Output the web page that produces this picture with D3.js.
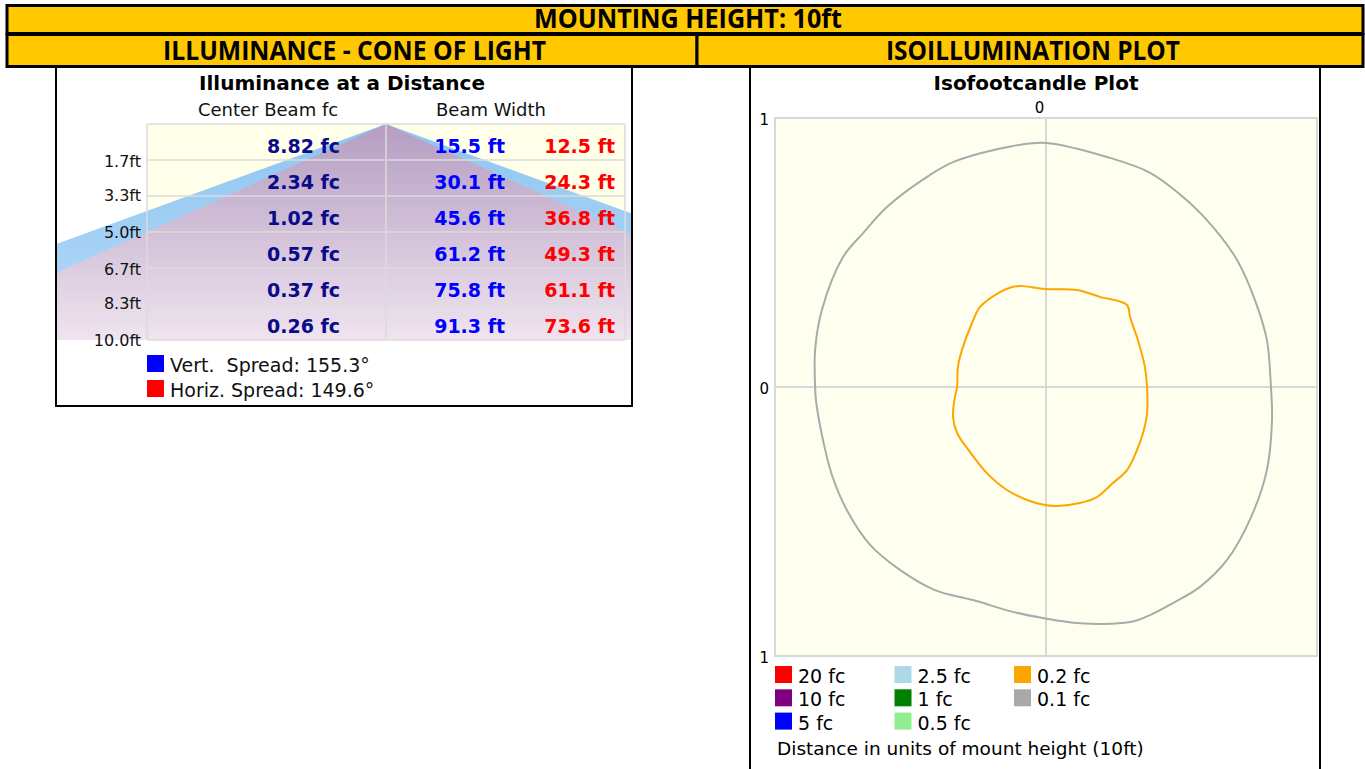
<!DOCTYPE html>
<html>
<head>
<meta charset="utf-8">
<script src="https://cdn.jsdelivr.net/npm/d3@7"></script>
<style>
body { margin: 0; background: #fff; }
text { font-family: "DejaVu Sans", Verdana, sans-serif; }
</style>
</head>
<body>
<script>
var headerTitle = "MOUNTING HEIGHT: 10ft",
    leftHeader = "ILLUMINANCE - CONE OF LIGHT",
    rightHeader = "ISOILLUMINATION PLOT";

// cone of light table
var distances = [1.7, 3.3, 5.0, 6.7, 8.3, 10.0];
var centerFc = [8.82, 2.34, 1.02, 0.57, 0.37, 0.26];
var vertWidth = [15.5, 30.1, 45.6, 61.2, 75.8, 91.3];
var horizWidth = [12.5, 24.3, 36.8, 49.3, 61.1, 73.6];
var spreadLabels = ["Vert.  Spread", "Horiz. Spread"];
var spreadValues = [155.3, 149.6];

// isofootcandle plot (units of mount height)
var isoTicks = [1, 0, -1];
var isoLevels = ["20 fc", "10 fc", "5 fc", "2.5 fc", "1 fc", "0.5 fc", "0.2 fc", "0.1 fc"];
var contour02 = [[-0.085, 0.375], [-0.004, 0.364], [0.114, 0.361], [0.199, 0.335], [0.299, 0.305],
  [0.310, 0.260], [0.339, 0.175], [0.365, 0.074], [0.373, 0], [0.373, -0.097], [0.358, -0.171],
  [0.336, -0.234], [0.299, -0.309], [0.247, -0.357], [0.188, -0.409], [0.125, -0.431], [0.041, -0.442],
  [-0.004, -0.439], [-0.070, -0.420], [-0.144, -0.383], [-0.218, -0.320], [-0.280, -0.242],
  [-0.328, -0.171], [-0.343, -0.112], [-0.336, -0.037], [-0.328, 0], [-0.325, 0.074], [-0.310, 0.138],
  [-0.273, 0.238], [-0.244, 0.297], [-0.170, 0.353], [-0.125, 0.372]];
var contour01 = [[0, 0.907], [0.225, 0.855], [0.384, 0.796], [0.531, 0.684], [0.616, 0.595],
  [0.705, 0.472], [0.771, 0.323], [0.815, 0.175], [0.830, 0], [0.834, -0.123], [0.815, -0.309],
  [0.760, -0.476], [0.668, -0.643], [0.568, -0.743], [0.469, -0.803], [0.384, -0.848], [0.310, -0.874],
  [0.114, -0.877], [-0.011, -0.859], [-0.122, -0.836], [-0.269, -0.792], [-0.410, -0.755],
  [-0.539, -0.680], [-0.649, -0.587], [-0.731, -0.465], [-0.790, -0.327], [-0.827, -0.178],
  [-0.849, -0.048], [-0.852, 0], [-0.852, 0.138], [-0.827, 0.286], [-0.749, 0.483], [-0.675, 0.572],
  [-0.587, 0.669], [-0.439, 0.781], [-0.343, 0.836], [-0.122, 0.896]];

var width = 1365, height = 769, yellow = "#ffc800";

var svg = d3.select("body").append("svg")
    .attr("width", width)
    .attr("height", height);

var defs = svg.append("defs");
function grad(id, c0, c1) {
  var g = defs.append("linearGradient").attr("id", id)
      .attr("gradientUnits", "userSpaceOnUse")
      .attr("x1", 0).attr("y1", 124).attr("x2", 0).attr("y2", 340);
  g.append("stop").attr("offset", 0).attr("stop-color", c0);
  g.append("stop").attr("offset", 1).attr("stop-color", c1);
}
grad("blueGrad", "#8ec5f1", "#b6dbf8");
grad("purpleGrad", "#b59dc2", "#efe4ef");
defs.append("clipPath").attr("id", "coneClip")
  .append("rect").attr("x", 57).attr("y", 124).attr("width", 574).attr("height", 216);

// ---- header ----
svg.append("rect").attr("x", 7).attr("y", 5.5).attr("width", 1356).attr("height", 28)
    .attr("fill", yellow).attr("stroke", "#000").attr("stroke-width", 3);
svg.append("rect").attr("x", 7).attr("y", 34.5).attr("width", 690).attr("height", 32)
    .attr("fill", yellow).attr("stroke", "#000").attr("stroke-width", 3);
svg.append("rect").attr("x", 697).attr("y", 34.5).attr("width", 666).attr("height", 32)
    .attr("fill", yellow).attr("stroke", "#000").attr("stroke-width", 3);

function headText(x, y, str, len) {
  svg.append("text")
      .attr("x", x).attr("y", y)
      .attr("text-anchor", "middle")
      .style("font-family", "'Open Sans', sans-serif")
      .attr("font-weight", "bold")
      .attr("font-size", 27)
      .attr("textLength", len)
      .attr("lengthAdjust", "spacingAndGlyphs")
      .text(str);
}
headText(688, 28, headerTitle, 308);
headText(354.5, 60, leftHeader, 383);
headText(1033, 60, rightHeader, 294);

// ---- left panel: cone of light ----
svg.append("rect").attr("x", 56).attr("y", 67).attr("width", 576).attr("height", 339)
    .attr("fill", "#fff").attr("stroke", "#000").attr("stroke-width", 2);

svg.append("text").attr("x", 342).attr("y", 90).attr("text-anchor", "middle")
    .attr("font-weight", "bold").attr("font-size", 20).text("Illuminance at a Distance");
svg.append("text").attr("x", 268).attr("y", 116).attr("text-anchor", "middle")
    .attr("font-size", 18).attr("fill", "#111").text("Center Beam fc");
svg.append("text").attr("x", 491).attr("y", 116).attr("text-anchor", "middle")
    .attr("font-size", 18).attr("fill", "#111").text("Beam Width");

var yFt = d3.scaleLinear().domain([0, 10]).range([124, 340]);
var xFt = d3.scaleLinear().domain([-20, 20]).range([126, 646]);
var rows = d3.scaleBand().domain(d3.range(distances.length)).range([124, 340]);

svg.append("rect").attr("x", 147).attr("y", 124).attr("width", 478).attr("height", 216)
    .attr("fill", "#ffffea");

var cone = svg.append("g").attr("clip-path", "url(#coneClip)");
var tri = d3.line().x(function(d) { return xFt(d[0]); }).y(function(d) { return yFt(d[1]); });
var vHalf = vertWidth[vertWidth.length - 1] / 2,
    hHalf = horizWidth[horizWidth.length - 1] / 2;
cone.append("path")
    .attr("d", tri([[0, 0], [-vHalf, 10], [vHalf, 10]]) + "Z")
    .attr("fill", "url(#blueGrad)");
cone.append("path")
    .attr("d", tri([[0, 0], [-hHalf, 10], [hHalf, 10]]) + "Z")
    .attr("fill", "url(#purpleGrad)");

// table grid
var grid = svg.append("g").attr("stroke", "#dcdcdc").attr("stroke-width", 2).attr("opacity", 0.75);
grid.selectAll(".hl")
    .data(d3.range(distances.length + 1))
  .enter().append("line")
    .attr("x1", 147).attr("x2", 625)
    .attr("y1", function(i) { return 124 + i * rows.step(); })
    .attr("y2", function(i) { return 124 + i * rows.step(); });
grid.selectAll(".vl")
    .data([147, xFt(0), 625])
  .enter().append("line")
    .attr("x1", function(d) { return d; }).attr("x2", function(d) { return d; })
    .attr("y1", 124).attr("y2", 340);

var rowG = svg.selectAll(".row")
    .data(d3.range(distances.length))
  .enter().append("g")
    .attr("transform", function(i) { return "translate(0," + (rows(i) + rows.bandwidth() / 2 + 10.5) + ")"; })
    .attr("font-weight", "bold")
    .attr("font-size", 19)
    .attr("text-anchor", "end");
rowG.append("text").attr("x", 340).attr("fill", "#0a0a8a")
    .text(function(i) { return centerFc[i].toFixed(2) + " fc"; });
rowG.append("text").attr("x", 505).attr("fill", "#0000ff")
    .text(function(i) { return vertWidth[i].toFixed(1) + " ft"; });
rowG.append("text").attr("x", 615).attr("fill", "#ff0000")
    .text(function(i) { return horizWidth[i].toFixed(1) + " ft"; });

var yAxis = svg.append("g")
    .attr("transform", "translate(141,0.5)")
    .call(d3.axisLeft(yFt).tickValues(distances).tickSize(0).tickPadding(0)
      .tickFormat(function(d) { return d.toFixed(1) + "ft"; }));
yAxis.select(".domain").remove();
yAxis.selectAll("text").attr("font-size", 16).attr("fill", "#111")
    .style("font-family", "'DejaVu Sans', sans-serif");

var spreadColors = ["#0000ff", "#ff0000"];
var spreadG = svg.selectAll(".spread")
    .data(d3.range(spreadLabels.length))
  .enter().append("g")
    .attr("transform", function(i) { return "translate(147," + (355 + i * 25) + ")"; });
spreadG.append("rect").attr("width", 17).attr("height", 17)
    .attr("fill", function(i) { return spreadColors[i]; });
spreadG.append("text").attr("x", 23).attr("y", 17).attr("font-size", 19)
    .attr("fill", "#111").style("white-space", "pre")
    .text(function(i) { return spreadLabels[i] + ": " + spreadValues[i].toFixed(1) + "\u00b0"; });

// ---- right panel: isofootcandle plot ----
svg.selectAll(".pline")
    .data([750, 1320])
  .enter().append("line")
    .attr("x1", function(d) { return d; }).attr("x2", function(d) { return d; })
    .attr("y1", 67).attr("y2", height)
    .attr("stroke", "#000").attr("stroke-width", 2);

svg.append("text").attr("x", 1036).attr("y", 90).attr("text-anchor", "middle")
    .attr("font-weight", "bold").attr("font-size", 20).text("Isofootcandle Plot");

var xU = d3.scaleLinear().domain([-1, 1]).range([775, 1317]);
var yU = d3.scaleLinear().domain([1, -1]).range([118, 656]);

svg.append("rect").attr("x", xU(-1)).attr("y", yU(1))
    .attr("width", xU(1) - xU(-1)).attr("height", yU(-1) - yU(1))
    .attr("fill", "#fffff0").attr("stroke", "#d8d8d8").attr("stroke-width", 2);
svg.append("line").attr("x1", xU(0)).attr("x2", xU(0)).attr("y1", yU(1)).attr("y2", yU(-1))
    .attr("stroke", "#d8d8d8").attr("stroke-width", 2);
svg.append("line").attr("x1", xU(-1)).attr("x2", xU(1)).attr("y1", yU(0)).attr("y2", yU(0))
    .attr("stroke", "#d8d8d8").attr("stroke-width", 2);

var absFmt = function(d) { return Math.abs(d); };
var leftAx = svg.append("g")
    .attr("transform", "translate(" + xU(-1) + ",2)")
    .call(d3.axisLeft(yU).tickValues(isoTicks).tickSize(0).tickPadding(6).tickFormat(absFmt));
var topAx = svg.append("g")
    .attr("transform", "translate(-7," + (yU(1) - 5) + ")")
    .call(d3.axisTop(xU).tickValues([0]).tickSize(0).tickPadding(0).tickFormat(absFmt));
[leftAx, topAx].forEach(function(a) {
  a.select(".domain").remove();
  a.selectAll("text").attr("font-size", 15).attr("fill", "#000")
      .style("font-family", "'DejaVu Sans', sans-serif");
});

var iso = d3.line()
    .x(function(d) { return xU(d[0]); })
    .y(function(d) { return yU(d[1]); })
    .curve(d3.curveCatmullRomClosed.alpha(0.5));
svg.append("path").attr("d", iso(contour01)).attr("fill", "none")
    .attr("stroke", "#aaaaaa").attr("stroke-width", 2);
svg.append("path").attr("d", iso(contour02)).attr("fill", "none")
    .attr("stroke", "#ffa500").attr("stroke-width", 2);

var levelColor = d3.scaleOrdinal()
    .domain(isoLevels)
    .range(["#ff0000", "#800080", "#0000ff", "#add8e6", "#008000", "#90ee90", "#ffa500", "#a9a9a9"]);
var legCol = d3.scalePoint().domain([0, 1, 2]).range([775, 1014]);

var leg = svg.selectAll(".leg")
    .data(isoLevels)
  .enter().append("g")
    .attr("transform", function(d, i) {
      return "translate(" + legCol(Math.floor(i / 3)) + "," + (666 + (i % 3) * 23.3) + ")";
    });
leg.append("rect").attr("width", 17).attr("height", 17)
    .attr("fill", function(d) { return levelColor(d); });
leg.append("text").attr("x", 23).attr("y", 17).attr("font-size", 19).attr("fill", "#000")
    .text(function(d) { return d; });

svg.append("text").attr("x", 777).attr("y", 755).attr("font-size", 18.5).attr("fill", "#000")
    .text("Distance in units of mount height (10ft)");
</script>
</body>
</html>
